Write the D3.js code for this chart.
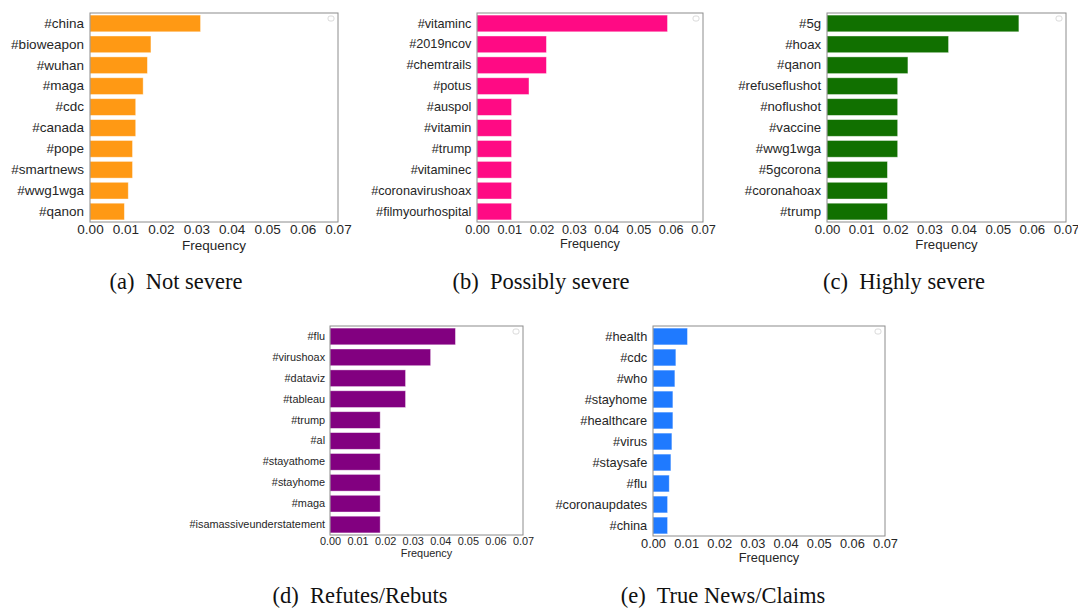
<!DOCTYPE html>
<html>
<head>
<meta charset="utf-8">
<script src="https://cdn.jsdelivr.net/npm/d3@7"></script>
<style>
  html, body { margin: 0; padding: 0; background: #fff; }
  svg { display: block; }
</style>
</head>
<body>
<svg id="chart" width="1078" height="608"></svg>
<script>
// Top hashtags per claim category (relative frequency)
const xTicks = [0.00, 0.01, 0.02, 0.03, 0.04, 0.05, 0.06, 0.07];

const notSevereTags = ["#china", "#bioweapon", "#wuhan", "#maga", "#cdc", "#canada", "#pope", "#smartnews", "#wwg1wga", "#qanon"];
const notSevereFreq = [0.0312, 0.0172, 0.0162, 0.0150, 0.0129, 0.0129, 0.0120, 0.0120, 0.0108, 0.0097];

const possiblySevereTags = ["#vitaminc", "#2019ncov", "#chemtrails", "#potus", "#auspol", "#vitamin", "#trump", "#vitaminec", "#coronavirushoax", "#filmyourhospital"];
const possiblySevereFreq = [0.0590, 0.0215, 0.0215, 0.0161, 0.0107, 0.0107, 0.0107, 0.0107, 0.0107, 0.0107];

const highlySevereTags = ["#5g", "#hoax", "#qanon", "#refuseflushot", "#noflushot", "#vaccine", "#wwg1wga", "#5gcorona", "#coronahoax", "#trump"];
const highlySevereFreq = [0.0562, 0.0356, 0.0237, 0.0207, 0.0207, 0.0207, 0.0207, 0.0177, 0.0177, 0.0177];

const refutesTags = ["#flu", "#virushoax", "#dataviz", "#tableau", "#trump", "#al", "#stayathome", "#stayhome", "#maga", "#isamassiveunderstatement"];
const refutesFreq = [0.0455, 0.0365, 0.0274, 0.0274, 0.0182, 0.0182, 0.0182, 0.0182, 0.0182, 0.0182];

const trueNewsTags = ["#health", "#cdc", "#who", "#stayhome", "#healthcare", "#virus", "#staysafe", "#flu", "#coronaupdates", "#china"];
const trueNewsFreq = [0.0104, 0.0069, 0.0066, 0.0060, 0.0060, 0.0057, 0.0054, 0.0049, 0.0044, 0.0044];

const captions = ["(a)  Not severe", "(b)  Possibly severe", "(c)  Highly severe", "(d)  Refutes/Rebuts", "(e)  True News/Claims"];

// Panel placement on the page (each sub-figure is scaled a little differently)
const panels = [
  { tags: notSevereTags, freq: notSevereFreq, color: "#ff9914", box: [90, 13, 338, 222], fs: 13.5, cap: [176, 289] },
  { tags: possiblySevereTags, freq: possiblySevereFreq, color: "#ff0a84", box: [477, 13, 703, 222], fs: 12.7, cap: [541, 289] },
  { tags: highlySevereTags, freq: highlySevereFreq, color: "#117000", box: [827, 13, 1066, 222], fs: 13.2, cap: [904, 289] },
  { tags: refutesTags, freq: refutesFreq, color: "#820080", box: [330, 326, 523, 535], fs: 10.9, cap: [360, 603] },
  { tags: trueNewsTags, freq: trueNewsFreq, color: "#1f7aff", box: [653, 326, 885, 536], fs: 12.8, cap: [723, 603] }
];

const svg = d3.select("#chart");
const sans = "'Liberation Sans', Arial, sans-serif";
const serif = "'Liberation Serif', 'Times New Roman', serif";
const textColor = "#262626";

panels.forEach((p, i) => {
  const [x0, y0, x1, y1] = p.box;
  const fs = p.fs;
  const x = d3.scaleLinear().domain([0, 0.07]).range([x0, x1]);
  const y = d3.scaleBand().domain(p.tags).range([y0, y1]).paddingInner(0.2).paddingOuter(0.1);
  const g = svg.append("g");

  // bars
  g.selectAll("rect.bar")
    .data(p.tags.map((t, k) => ({ tag: t, v: p.freq[k] })))
    .join("rect")
    .attr("class", "bar")
    .attr("x", x(0))
    .attr("y", d => y(d.tag))
    .attr("width", d => x(d.v) - x(0))
    .attr("height", y.bandwidth())
    .attr("fill", p.color)
    .attr("stroke", "#ffffff")
    .attr("stroke-opacity", 0.5)
    .attr("stroke-width", 0.8);

  // frame
  g.append("rect")
    .attr("x", x0).attr("y", y0)
    .attr("width", x1 - x0).attr("height", y1 - y0)
    .attr("fill", "none")
    .attr("stroke", "#8c8c8c")
    .attr("stroke-width", 1);

  // empty legend marker in the upper right corner
  g.append("rect")
    .attr("x", x1 - 10).attr("y", y0 + 3)
    .attr("width", 6).attr("height", 5)
    .attr("rx", 2)
    .attr("fill", "none")
    .attr("stroke", "#d0d0d0")
    .attr("stroke-width", 0.8);

  // y axis (category labels)
  const yAxis = d3.axisLeft(y).tickSize(0).tickPadding(fs * 0.45);
  const ya = g.append("g").attr("transform", `translate(${x0},0)`).call(yAxis);
  ya.select(".domain").remove();
  ya.selectAll("text")
    .attr("font-family", sans)
    .attr("font-size", fs)
    .attr("fill", textColor);

  // x axis
  const xAxis = d3.axisBottom(x).tickValues(xTicks).tickFormat(d3.format(".2f")).tickSize(0).tickPadding(fs * 0.2);
  const xa = g.append("g").attr("transform", `translate(0,${y1})`).call(xAxis);
  xa.select(".domain").remove();
  xa.selectAll("text")
    .attr("font-family", sans)
    .attr("font-size", fs)
    .attr("fill", textColor);

  // axis title
  g.append("text")
    .attr("x", (x0 + x1) / 2)
    .attr("y", y1 + fs * 2.05)
    .attr("text-anchor", "middle")
    .attr("font-family", sans)
    .attr("font-size", fs)
    .attr("fill", textColor)
    .text("Frequency");

  // sub-figure caption
  svg.append("text")
    .attr("x", p.cap[0])
    .attr("y", p.cap[1])
    .attr("text-anchor", "middle")
    .attr("font-family", serif)
    .attr("font-size", 22.5)
    .attr("fill", "#111")
    .style("white-space", "pre")
    .text(captions[i]);
});
</script>
</body>
</html>
